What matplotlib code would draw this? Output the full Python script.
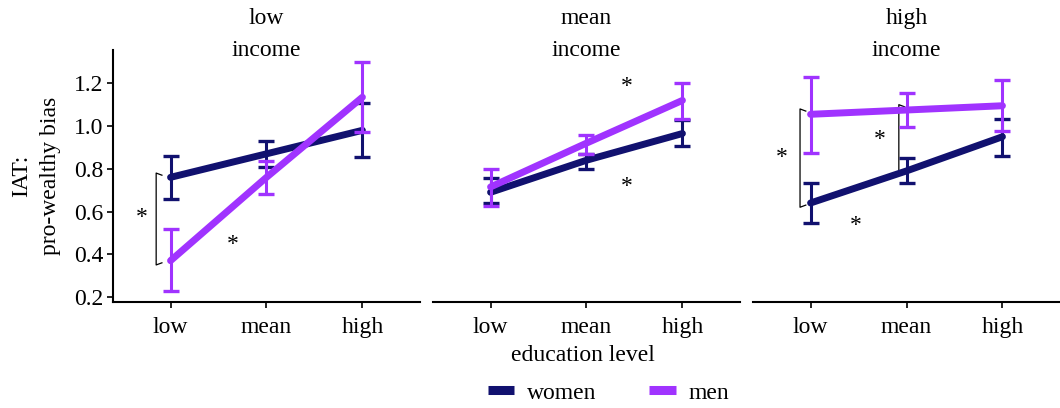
import matplotlib.pyplot as plt
import numpy as np
from matplotlib.lines import Line2D

plt.rcParams["font.family"] = ["Liberation Serif", "DejaVu Serif"]

# education levels on the x axis
levels = ["low", "mean", "high"]
panels = ["low\nincome", "mean\nincome", "high\nincome"]

# means and error bar ends (per income panel)
women_mean = [[0.76, 0.87, 0.98], [0.69, 0.84, 0.965], [0.64, 0.79, 0.95]]
women_lo = [[0.66, 0.81, 0.855], [0.64, 0.80, 0.905], [0.545, 0.735, 0.86]]
women_hi = [[0.86, 0.93, 1.11], [0.755, 0.87, 1.03], [0.735, 0.85, 1.035]]

men_mean = [[0.37, 0.76, 1.135], [0.715, 0.92, 1.12], [1.055, 1.075, 1.095]]
men_lo = [[0.23, 0.68, 0.97], [0.625, 0.87, 1.035], [0.875, 0.995, 0.975]]
men_hi = [[0.52, 0.835, 1.30], [0.80, 0.96, 1.20], [1.23, 1.155, 1.215]]

women_col = "#11116f"
men_col = "#a033ff"
fs = 17

fig = plt.figure(figsize=(10.6, 4.08), dpi=100)
lefts = [0.1066, 0.4085, 0.7104]
width = 0.2896
axes = [fig.add_axes([l, 0.26, width, 0.617]) for l in lefts]

x = np.arange(3)
for i, ax in enumerate(axes):
    for mean, lo, hi, col in [(women_mean[i], women_lo[i], women_hi[i], women_col),
                              (men_mean[i], men_lo[i], men_hi[i], men_col)]:
        mean = np.array(mean)
        err = [mean - np.array(lo), np.array(hi) - mean]
        ax.plot(x, mean, color=col, lw=5, solid_capstyle="round", zorder=3)
        ax.errorbar(x, mean, yerr=err, fmt="none", ecolor=col, elinewidth=2.2,
                    capsize=5.5, capthick=2.4, zorder=3)
    ax.set_xlim(-0.6, 2.6)
    ax.set_ylim(0.177, 1.355)
    ax.set_xticks(x)
    ax.set_xticklabels(levels, fontsize=fs)
    ax.set_title(panels[i], fontsize=fs, linespacing=1.7, y=0.975, pad=0)
    for s in ["top", "right"]:
        ax.spines[s].set_visible(False)
    ax.spines["bottom"].set_linewidth(1.5)
    ax.spines["left"].set_linewidth(1.5)
    ax.tick_params(axis="x", length=4, width=1.2, pad=7)
    if i == 0:
        ax.set_yticks([0.2, 0.4, 0.6, 0.8, 1.0, 1.2])
        ax.set_yticklabels(["0.2", "0.4", "0.6", "0.8", "1.0", "1.2"], fontsize=fs)
        ax.tick_params(axis="y", length=4, width=1.2, pad=3)
    else:
        ax.spines["left"].set_visible(False)
        ax.set_yticks([])


def bracket(ax, xpos, y0, y1):
    ax.plot([xpos + 0.06, xpos, xpos, xpos + 0.06], [y0, y0 - 0.01, y1 + 0.01, y1],
            color="black", lw=0.9, zorder=2)


# significance marks
bracket(axes[0], -0.15, 0.36, 0.77)
axes[0].text(-0.3, 0.57, "*", fontsize=fs, ha="center", va="center")
axes[0].text(0.65, 0.445, "*", fontsize=fs, ha="center", va="center")
axes[1].text(1.42, 1.185, "*", fontsize=fs, ha="center", va="center")
axes[1].text(1.42, 0.715, "*", fontsize=fs, ha="center", va="center")
bracket(axes[2], -0.11, 0.63, 1.07)
bracket(axes[2], 0.92, 0.79, 1.09)
axes[2].text(-0.3, 0.855, "*", fontsize=fs, ha="center", va="center")
axes[2].text(0.72, 0.935, "*", fontsize=fs, ha="center", va="center")
axes[2].text(0.47, 0.535, "*", fontsize=fs, ha="center", va="center")

axes[0].set_ylabel("IAT:\npro-wealthy bias", fontsize=fs, linespacing=1.5, labelpad=9)
fig.text(0.55, 0.128, "education level", fontsize=fs, ha="center", va="center")

handles = [Line2D([], [], color=women_col, lw=6.5, solid_capstyle="butt"),
           Line2D([], [], color=men_col, lw=6.5, solid_capstyle="butt")]
fig.legend(handles, ["women", "men"], loc="center", bbox_to_anchor=(0.574, 0.037),
           ncol=2, frameon=False, fontsize=fs, handlelength=1.14, handletextpad=0.55,
           columnspacing=2.2)

fig.savefig("out.png", dpi=100)
